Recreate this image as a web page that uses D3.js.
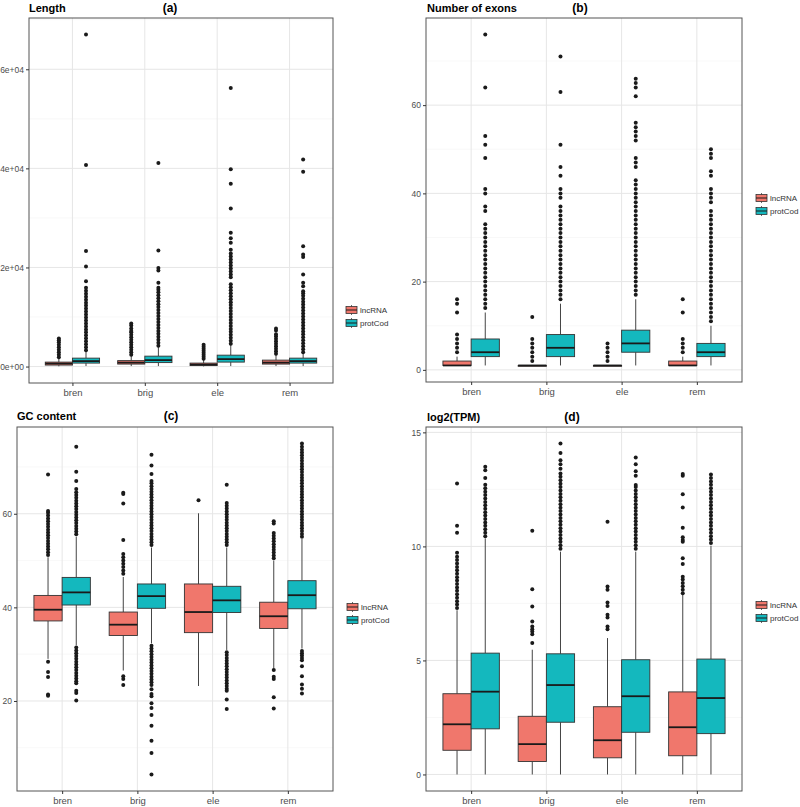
<!DOCTYPE html>
<html><head><meta charset="utf-8">
<script src="https://cdn.jsdelivr.net/npm/d3@7"></script>
<style>
body{margin:0;background:#fff}
svg{display:block}
text{font-family:"Liberation Sans",Arial,Helvetica,sans-serif}
</style>
</head><body>
<svg id="chart" width="800" height="807"></svg>
<script>
const categories = ["bren","brig","ele","rem"];
const groups = ["lncRNA","protCod"];
const groupColors = ["#F0776C","#14B8BE"];

// Box statistics per category: [lowerWhisker, q1, median, q3, upperWhisker]
// (a) Length
const lengthLncStats  = [[50,300,600,900,1800],[100,500,800,1200,2200],[30,200,400,700,1400],[100,500,800,1300,2400]];
const lengthProtStats = [[100,700,1100,1700,3100],[100,800,1300,2100,4000],[100,900,1500,2300,4400],[100,700,1100,1700,2700]];
const lengthLncOutliers = [
  [1900,2400,2900,3400,3900,4400,4900,5300,5650],
  [2400,2900,3400,3900,4400,4900,5400,5900,6400,6900,7200,7700,8300,8700],
  [1600,2000,2400,2800,3200,3600,4000,4400],
  [2600,3100,3600,4100,4600,5100,5600,6100,6500,7300,7700]
];
const lengthProtOutliers = [
  [3300,3900,4500,5100,5700,6300,6900,7500,8100,8700,9300,9900,10500,11100,11700,12300,12900,13500,14100,14700,15300,15900,17200,20200,23300,40700,67000],
  [4200,4800,5400,6000,6600,7200,7800,8400,9000,9600,10200,10800,11400,12000,12600,13200,13800,14400,15000,15500,15900,16900,19400,19900,23400,41100],
  [4600,5200,5800,6400,7000,7600,8200,8800,9400,10000,10600,11200,11800,12400,13000,13600,14200,14800,15400,16000,16600,18000,18600,19200,19800,20400,21000,21600,22200,22800,23600,25000,25900,27000,31900,36900,39800,56200],
  [2900,3500,4100,4700,5300,5900,6500,7100,7700,8300,8900,9500,10100,10700,11300,11900,12500,13100,13700,14300,14800,15200,16200,16900,18600,22100,22600,24300,39300,41800]
];
const lengthTicks = [0,20000,40000,60000];
const lengthTickLabels = ["0e+00","2e+04","4e+04","6e+04"];

// (b) Number of exons
const exonLncStats  = [[1,1,1,2,3],[1,1,1,1,1],[1,1,1,1,1],[1,1,1,2,3]];
const exonProtStats = [[1,3,4,7,13],[1,3,5,8,15],[1,4,6,9,16],[1,3,4,6,10]];
const exonLncOutliers = [[4,5,6,7,8,13,15,16],[2,3,4,5,6,7,12],[2,3,4,5,6],[4,5,6,7,13,16]];
const exonProtOutliers = [
  [14,15,16,17,18,19,20,21,22,23,24,25,26,27,28,29,30,31,32,33,36,37,40,41,48,51,53,64,76],
  [16,17,18,19,20,21,22,23,24,25,26,27,28,29,30,31,32,33,34,35,36,37,39,40,41,44,46,51,63,71],
  [17,18,19,20,21,22,23,24,25,26,27,28,29,30,31,32,33,34,35,36,37,38,39,40,41,42,43,46,47,48,52,53,54,55,56,62,64,65,66],
  [11,12,13,14,15,16,17,18,19,20,21,22,23,24,25,26,27,28,29,30,31,32,33,34,35,36,38,39,40,41,44,45,48,49,50]
];
const exonTicks = [0,20,40,60];
const exonTickLabels = ["0","20","40","60"];

// (c) GC content
const gcLncStats  = [[29,37.1,39.5,42.55,50.7],[26.5,34,36.3,39,46.5],[23.2,34.6,39,45,60.1],[27,35.5,38.1,41.1,50]];
const gcProtStats = [[31.9,40.5,43.2,46.4,55.1],[32.3,39.8,42.4,45,52.8],[30.9,38.9,41.5,44.5,52.8],[31.2,39.7,42.6,45.7,54.6]];
const gcLncOutliers = [
  [28.4,26.2,25.1,21.4,21.1,51.2,51.8,52.4,53.0,53.6,54.2,54.8,55.4,56.0,56.6,57.2,57.8,58.4,59.0,59.6,60.2,60.6,68.4],
  [25.3,24.7,23.4,47.2,47.9,48.6,49.3,50.0,50.7,51.4,54.4,62.2,64.2,64.5],
  [62.9],
  [26.6,25.2,24.7,20.8,18.4,50.5,51.1,51.7,52.3,52.9,53.5,54.1,54.7,55.3,55.9,57.9,58.4]
];
const gcProtOutliers = [
  [31.4,30.8,30.2,29.6,29.0,28.4,27.8,27.2,26.6,26.0,25.4,24.8,24.2,23.8,22.2,21.7,20.1,
   55.6,56.2,56.8,57.4,58.0,58.6,59.2,59.8,60.4,61.0,61.6,62.2,62.8,63.4,64.0,64.6,65.3,67.0,69.0,74.3],
  [31.8,31.2,30.6,30.0,29.4,28.8,28.2,27.6,27.0,26.4,25.8,25.2,24.6,24.0,23.4,22.5,21.5,21.0,19.5,18.5,17.0,14.7,11.5,8.9,4.3,
   53.3,53.9,54.5,55.1,55.7,56.3,56.9,57.5,58.1,58.7,59.3,59.9,60.5,61.1,61.7,62.3,62.9,63.5,64.1,64.7,65.3,65.9,66.5,67.0,68.5,70.3,72.6],
  [30.4,29.8,29.2,28.6,28.0,27.4,26.8,26.2,25.6,25.0,24.4,23.8,23.2,22.6,22.2,20.3,18.3,
   53.3,53.9,54.5,55.1,55.7,56.3,56.9,57.5,58.1,58.7,59.3,59.9,60.5,61.1,61.7,62.3,66.2],
  [30.7,30.2,29.7,29.2,28.7,27.4,25.3,23.5,22.6,21.6,
   55.1,55.7,56.3,56.9,57.5,58.1,58.7,59.3,59.9,60.5,61.1,61.7,62.3,62.9,63.5,64.1,64.7,65.3,65.9,66.5,67.1,67.7,68.3,68.9,69.5,70.1,70.7,71.3,71.9,72.5,73.1,73.7,74.3,75.0]
];
const gcTicks = [20,40,60];
const gcTickLabels = ["20","40","60"];

// (d) log2(TPM)
const tpmLncStats  = [[0,1.06,2.2,3.54,7.2],[0,0.57,1.33,2.55,5.47],[0,0.73,1.5,2.97,5.98],[0,0.82,2.07,3.62,7.87]];
const tpmProtStats = [[0,2.0,3.63,5.32,10.35],[0,2.29,3.92,5.29,9.77],[0,1.85,3.43,5.03,9.77],[0,1.79,3.35,5.06,10.03]];
const tpmLncOutliers = [
  [7.3,7.45,7.6,7.75,7.9,8.05,8.2,8.35,8.5,8.65,8.8,8.95,9.1,9.25,9.4,9.55,9.72,10.6,10.9,12.76],
  [5.76,6.15,6.27,6.37,6.49,6.71,7.36,8.12,10.69],
  [6.37,6.49,6.88,7.0,7.39,7.54,8.1,8.24,11.08],
  [7.95,8.1,8.25,8.4,8.55,8.67,9.23,9.48,10.2,10.28,10.4,10.82,11.71,12.29,13.1,13.17]
];
const tpmProtOutliers = [
  [10.45,10.6,10.75,10.9,11.05,11.2,11.35,11.5,11.65,11.8,11.95,12.1,12.25,12.4,12.55,12.7,13.0,13.34,13.49],
  [9.9,10.05,10.2,10.35,10.5,10.65,10.8,10.95,11.1,11.25,11.4,11.55,11.7,11.85,12.0,12.15,12.3,12.45,12.6,12.75,12.9,13.05,13.2,13.4,13.6,13.78,14.1,14.51],
  [9.9,10.05,10.2,10.35,10.5,10.65,10.8,10.95,11.1,11.25,11.4,11.55,11.7,11.85,12.0,12.15,12.3,12.45,12.6,12.69,13.1,13.3,13.6,13.9],
  [10.15,10.3,10.45,10.6,10.75,10.9,11.05,11.2,11.35,11.5,11.65,11.8,11.95,12.1,12.25,12.4,12.55,12.7,12.85,13.0,13.15]
];
const tpmTicks = [0,5,10,15];
const tpmTickLabels = ["0","5","10","15"];

const svg = d3.select("#chart");

function drawPanel(p) {
  const g = svg.append("g");
  const x = d3.scalePoint().domain(categories).range([p.left, p.right]).padding(0.6);
  const step = x.step();
  const bw = step * 0.375;
  const offs = [-step * 0.1875, step * 0.1875];
  const allVals = [].concat(...p.stats.flat(), ...p.outliers.flat(2));
  const lo = d3.min(allVals), hi = d3.max(allVals);
  const pad = (hi - lo) * 0.05;
  const y = d3.scaleLinear().domain([lo - pad, hi + pad]).range([p.bottom, p.top]);

  // minor grid
  const tk = p.ticks;
  const dt = tk[1] - tk[0];
  const minor = [];
  for (let v = tk[0] - dt / 2; v <= y.domain()[1]; v += dt) if (v >= y.domain()[0]) minor.push(v);
  g.selectAll(".mn").data(minor).enter().append("line")
    .attr("x1", p.left).attr("x2", p.right)
    .attr("y1", d => y(d)).attr("y2", d => y(d))
    .attr("stroke", "#f3f3f3").attr("stroke-width", 0.6);
  g.selectAll(".mj").data(tk).enter().append("line")
    .attr("x1", p.left).attr("x2", p.right)
    .attr("y1", d => y(d)).attr("y2", d => y(d))
    .attr("stroke", "#e6e6e6").attr("stroke-width", 1);
  g.selectAll(".vx").data(categories).enter().append("line")
    .attr("x1", d => x(d)).attr("x2", d => x(d))
    .attr("y1", p.top).attr("y2", p.bottom)
    .attr("stroke", "#e6e6e6").attr("stroke-width", 1);

  // boxes
  [0, 1].forEach(gi => {
    const st = gi === 0 ? p.stats[0] : p.stats[1];
    const ou = gi === 0 ? p.outliers[0] : p.outliers[1];
    categories.forEach((c, ci) => {
      const [wl, q1, md, q3, wh] = st[ci];
      const cx = x(c) + offs[gi];
      g.append("line").attr("x1", cx).attr("x2", cx).attr("y1", y(wh)).attr("y2", y(q3))
        .attr("stroke", "#444").attr("stroke-width", 1);
      g.append("line").attr("x1", cx).attr("x2", cx).attr("y1", y(q1)).attr("y2", y(wl))
        .attr("stroke", "#444").attr("stroke-width", 1);
      const h = Math.max(y(q1) - y(q3), 0.8);
      g.append("rect").attr("x", cx - bw / 2).attr("y", y(q3)).attr("width", bw).attr("height", h)
        .attr("fill", groupColors[gi]).attr("stroke", "#333").attr("stroke-width", 0.9);
      g.append("line").attr("x1", cx - bw / 2).attr("x2", cx + bw / 2).attr("y1", y(md)).attr("y2", y(md))
        .attr("stroke", "#1a1a1a").attr("stroke-width", 1.8);
      g.selectAll(null).data(ou[ci]).enter().append("circle")
        .attr("cx", cx).attr("cy", d => y(d)).attr("r", 2)
        .attr("fill", "#1a1a1a");
    });
  });

  // border
  g.append("rect").attr("x", p.left).attr("y", p.top)
    .attr("width", p.right - p.left).attr("height", p.bottom - p.top)
    .attr("fill", "none").attr("stroke", "#555").attr("stroke-width", 1);

  // axes
  const ya = g.append("g").attr("transform", `translate(${p.left},0)`)
    .call(d3.axisLeft(y).tickValues(tk).tickFormat((d, i) => p.tickLabels[i]).tickSize(3).tickPadding(2));
  ya.select(".domain").remove();
  ya.selectAll("line").attr("stroke", "#333");
  ya.selectAll("text").attr("fill", "#4d4d4d").style("font-size", "8.5px")
    .style("font-family", '"Liberation Sans",Arial,sans-serif');
  const xa = g.append("g").attr("transform", `translate(0,${p.bottom})`)
    .call(d3.axisBottom(x).tickSize(3).tickPadding(3));
  xa.select(".domain").remove();
  xa.selectAll("line").attr("stroke", "#333");
  xa.selectAll("text").attr("fill", "#4d4d4d").style("font-size", "9.5px")
    .style("font-family", '"Liberation Sans",Arial,sans-serif');

  // titles
  g.append("text").attr("x", p.titleX).attr("y", p.titleY).text(p.title)
    .style("font-size", "11px").style("font-weight", "bold").attr("fill", "#000");
  g.append("text").attr("x", p.labelX).attr("y", p.titleY).attr("text-anchor", "middle").text(p.label)
    .style("font-size", "12px").style("font-weight", "bold").attr("fill", "#000");

  // legend
  groups.forEach((name, gi) => {
    const ly = p.legendY[gi];
    const kx = p.legendX;
    g.append("line").attr("x1", kx + 5.5).attr("x2", kx + 5.5).attr("y1", ly - 5).attr("y2", ly + 5)
      .attr("stroke", "#444").attr("stroke-width", 0.8);
    g.append("rect").attr("x", kx).attr("y", ly - 3.5).attr("width", 11).attr("height", 7)
      .attr("fill", groupColors[gi]).attr("stroke", "#333").attr("stroke-width", 0.8);
    g.append("line").attr("x1", kx).attr("x2", kx + 11).attr("y1", ly).attr("y2", ly)
      .attr("stroke", "#1a1a1a").attr("stroke-width", 1);
    g.append("text").attr("x", kx + 14).attr("y", ly + 3).text(name)
      .style("font-size", "8px").attr("fill", "#333");
  });
}

drawPanel({left: 29, top: 18, right: 333, bottom: 383,
  stats: [lengthLncStats, lengthProtStats], outliers: [lengthLncOutliers, lengthProtOutliers],
  ticks: lengthTicks, tickLabels: lengthTickLabels,
  title: "Length", label: "(a)", titleX: 29, titleY: 12, labelX: 170,
  legendX: 346, legendY: [310, 323]});
drawPanel({left: 426, top: 18, right: 742, bottom: 382,
  stats: [exonLncStats, exonProtStats], outliers: [exonLncOutliers, exonProtOutliers],
  ticks: exonTicks, tickLabels: exonTickLabels,
  title: "Number of exons", label: "(b)", titleX: 427, titleY: 12, labelX: 580,
  legendX: 756, legendY: [198, 211]});
drawPanel({left: 17, top: 427, right: 333, bottom: 791,
  stats: [gcLncStats, gcProtStats], outliers: [gcLncOutliers, gcProtOutliers],
  ticks: gcTicks, tickLabels: gcTickLabels,
  title: "GC content", label: "(c)", titleX: 17, titleY: 420, labelX: 171,
  legendX: 347, legendY: [607, 620]});
drawPanel({left: 426, top: 427, right: 742, bottom: 791,
  stats: [tpmLncStats, tpmProtStats], outliers: [tpmLncOutliers, tpmProtOutliers],
  ticks: tpmTicks, tickLabels: tpmTickLabels,
  title: "log2(TPM)", label: "(d)", titleX: 427, titleY: 421, labelX: 572,
  legendX: 756, legendY: [605, 618]});
</script>
</body></html>
